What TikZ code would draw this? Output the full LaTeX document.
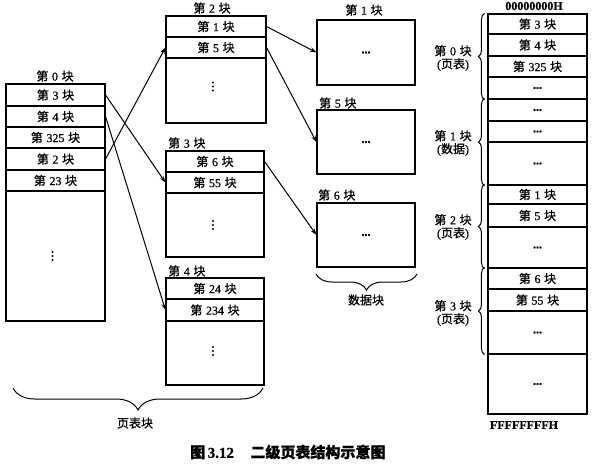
\documentclass[tikz,border=0pt]{standalone}
\usepackage{fontspec}
\setmainfont{Liberation Serif}[FakeBold=0.6]
\newfontfamily\cjk{Noto Sans CJK SC}[FakeBold=0.8]
\usetikzlibrary{arrows.meta,decorations.pathreplacing}
% Chinese text inside mixed lines
\newcommand{\zh}[1]{{\cjk #1}}
% "block n" label
\newcommand{\blk}[1]{\zh{第}\hspace{0.3em}#1\hspace{0.3em}\zh{块}}
\newcommand{\hdot}{\textbf{...}}
\begin{document}
\begin{tikzpicture}[x=1pt,y=-1pt,
  every node/.style={font=\fontsize{12}{13}\selectfont},
  cell/.style={draw,line width=1.1pt,inner sep=0pt,anchor=center},
  title/.style={inner sep=0pt},
  link/.style={line width=1pt,-{Stealth[length=6.5pt,width=4.5pt]}},
  sidebrace/.style={draw,line width=1pt,decorate,decoration={brace,amplitude=6pt,aspect=0.5}},
  sidelabel/.style={align=center,inner sep=0pt,font=\fontsize{12}{13}\selectfont}]
\path[use as bounding box,fill=white] (0,0) rectangle (596,467);

% ---- page directory: block 0 ----
\node[title] (t0) at (55,76) {\blk{0}};
\node[cell,minimum width=99pt,minimum height=22pt] (L1) at (55.5,95) {\blk{3}};
\node[cell,minimum width=99pt,minimum height=21pt] (L2) at (55.5,116.5) {\blk{4}};
\node[cell,minimum width=99pt,minimum height=21pt] (L3) at (55.5,137.5) {\blk{325}};
\node[cell,minimum width=99pt,minimum height=22pt] (L4) at (55.5,159) {\blk{2}};
\node[cell,minimum width=99pt,minimum height=21pt] (L5) at (55.5,180.5) {\blk{23}};
\node[cell,minimum width=99pt,minimum height=130pt] (L6) at (55.5,256) {};

% ---- page table: block 2 ----
\node[title] (t2) at (212,8) {\blk{2}};
\node[cell,minimum width=100pt,minimum height=21pt] (B2a) at (216,26.5) {\blk{1}};
\node[cell,minimum width=100pt,minimum height=21pt] (B2b) at (216,47.5) {\blk{5}};
\node[cell,minimum width=100pt,minimum height=65pt] (B2c) at (216,90.5) {};

% ---- page table: block 3 ----
\node[title,anchor=west] (t3) at (168,143) {\blk{3}};
\node[cell,minimum width=98pt,minimum height=21pt] (B3a) at (215,161.5) {\blk{6}};
\node[cell,minimum width=98pt,minimum height=21pt] (B3b) at (215,182.5) {\blk{55}};
\node[cell,minimum width=98pt,minimum height=64pt] (B3c) at (215,225) {};

% ---- page table: block 4 ----
\node[title,anchor=west] (t4) at (168,271) {\blk{4}};
\node[cell,minimum width=98pt,minimum height=21pt] (B4a) at (215,288.5) {\blk{24}};
\node[cell,minimum width=98pt,minimum height=22pt] (B4b) at (215,310) {\blk{234}};
\node[cell,minimum width=98pt,minimum height=64pt] (B4c) at (215,353) {};

% vertical ellipsis dots in the open parts of the tables
\foreach \c/\dx/\dy in {L6/-3/0, B2c/-3/-4, B3c/-2/0, B4c/-2/-2}
  \foreach \k in {-4,0,4}
    \fill ([shift={(\dx,\dy+\k)}]\c.center) circle (1.1pt);

% ---- data blocks ----
\node[title] (td1) at (364,10) {\blk{1}};
\node[cell,minimum width=98pt,minimum height=65pt] (D1) at (366,52.5) {\hdot};
\node[title,anchor=west] (td5) at (319,103) {\blk{5}};
\node[cell,minimum width=98pt,minimum height=64pt] (D5) at (366,142) {\hdot};
\node[title,anchor=west] (td6) at (318,195) {\blk{6}};
\node[cell,minimum width=98pt,minimum height=64pt] (D6) at (366,235) {\hdot};

% ---- links ----
\draw[link] (L1.east) -- (B3b.west);
\draw[link] (L4.east) -- (B2b.west);
\draw[link] (L2.east) -- (B4b.west);
\draw[link] (B2a.east) -- (D1.west);
\draw[link] (B2b.east) -- (D5.west);
\draw[link] (B3a.east) -- (D6.west);

% ---- group braces ----
\coordinate (pbl) at (13,388);
\coordinate (pbr) at (263,388);
\draw[line width=1pt,decorate,decoration={brace,amplitude=22pt,aspect=0.5,mirror}] (pbl) -- (pbr);
\node (pbt) at (135,423) {\zh{页表块}};
\coordinate (dbl) at (316,274);
\coordinate (dbr) at (417,274);
\draw[line width=1pt,decorate,decoration={brace,amplitude=16pt,aspect=0.5,mirror}] (dbl) -- (dbr);
\node (dbt) at (366,300) {\zh{数据块}};

% ---- linear memory layout ----
\node[inner sep=0pt] (top) at (534,6) {\textbf{00000000H}};
\node[cell,minimum width=99pt,minimum height=20pt] (R1) at (537.5,24) {\blk{3}};
\node[cell,minimum width=99pt,minimum height=22pt] (R2) at (537.5,45) {\blk{4}};
\node[cell,minimum width=99pt,minimum height=21pt] (R3) at (537.5,66.5) {\blk{325}};
\node[cell,minimum width=99pt,minimum height=22pt] (R4) at (537.5,88) {\hdot};
\node[cell,minimum width=99pt,minimum height=22pt] (R5) at (537.5,110) {\hdot};
\node[cell,minimum width=99pt,minimum height=21pt] (R6) at (537.5,131.5) {\hdot};
\node[cell,minimum width=99pt,minimum height=43pt] (R7) at (537.5,163.5) {\hdot};
\node[cell,minimum width=99pt,minimum height=19pt] (R8) at (537.5,194.5) {\blk{1}};
\node[cell,minimum width=99pt,minimum height=23pt] (R9) at (537.5,215.5) {\blk{5}};
\node[cell,minimum width=99pt,minimum height=41pt] (R10) at (537.5,247.5) {\hdot};
\node[cell,minimum width=99pt,minimum height=21pt] (R11) at (537.5,278.5) {\blk{6}};
\node[cell,minimum width=99pt,minimum height=22pt] (R12) at (537.5,300) {\blk{55}};
\node[cell,minimum width=99pt,minimum height=43pt] (R13) at (537.5,332.5) {\hdot};
\node[cell,minimum width=99pt,minimum height=60pt] (R14) at (537.5,384) {\hdot};
\node[inner sep=0pt] (bot) at (524,425) {\textbf{FFFFFFFFH}};

\draw[sidebrace] (R4.south west) ++(-3,0) coordinate (s0b) -- (R1.north west -| s0b);
\draw[sidebrace] (R7.south west) ++(-3,0) coordinate (s1b) -- (R5.north west -| s1b);
\draw[sidebrace] (R10.south west) ++(-3,0) coordinate (s2b) -- (R8.north west -| s2b);
\draw[sidebrace] (R13.south west) ++(-3,0) coordinate (s3b) -- (R11.north west -| s3b);
\node[sidelabel] (g0) at (453,58) {\blk{0}\\(\zh{页表})};
\node[sidelabel] (g1) at (453,143) {\blk{1}\\(\zh{数据})};
\node[sidelabel] (g2) at (453,227) {\blk{2}\\(\zh{页表})};
\node[sidelabel] (g3) at (453,313) {\blk{3}\\(\zh{页表})};

% ---- caption ----
\node[anchor=west,inner sep=0pt,font=\fontsize{15}{17}\selectfont\bfseries] (cap) at (190,452)
  {{\cjk 图}\,3.12\hspace{1.1em}{\cjk 二级页表结构示意图}};
\end{tikzpicture}
\end{document}
